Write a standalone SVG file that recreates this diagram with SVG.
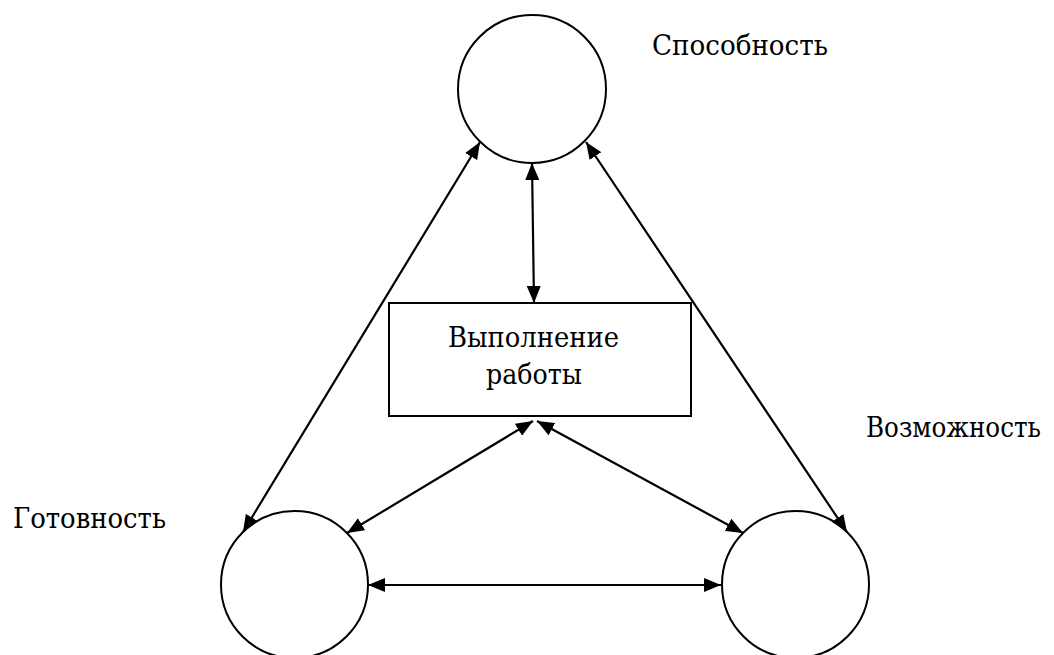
<svg xmlns="http://www.w3.org/2000/svg" width="1054" height="655" viewBox="0 0 1054 655">
<style>
.node{fill:#fff;stroke:#000;stroke-width:2}
.lbl{font-family:"DejaVu Serif",serif;font-size:28px;fill:#000}
.conn{stroke:#000;stroke-width:2.2;fill:none;marker-start:url(#ah);marker-end:url(#ah)}
</style>
<defs>
<marker id="ah" viewBox="0 0 17 14" refX="17" refY="7" markerWidth="17" markerHeight="14" markerUnits="userSpaceOnUse" orient="auto-start-reverse">
<path d="M0,0 L17,7 L0,14 Z" fill="#000"/>
</marker>
</defs>
<rect width="1054" height="655" fill="#fff"/>
<g id="node-sposobnost">
<circle class="node" cx="532" cy="89" r="74"/>
<text class="lbl" x="652" y="55" textLength="176" lengthAdjust="spacingAndGlyphs">Способность</text>
</g>
<g id="node-gotovnost">
<circle class="node" cx="294.5" cy="584.5" r="73.5"/>
<text class="lbl" x="13" y="528" textLength="153" lengthAdjust="spacingAndGlyphs">Готовность</text>
</g>
<g id="node-vozmozhnost">
<circle class="node" cx="795.5" cy="584.5" r="73.5"/>
<text class="lbl" x="866" y="437" font-size="24" textLength="175" lengthAdjust="spacingAndGlyphs">Возможность</text>
</g>
<g id="node-vypolnenie">
<rect class="node" x="389" y="303" width="302" height="113"/>
<text class="lbl" x="448" y="347" textLength="171" lengthAdjust="spacingAndGlyphs">Выполнение</text>
<text class="lbl" x="486" y="384" textLength="96" lengthAdjust="spacingAndGlyphs">работы</text>
</g>
<g id="connectors">
<line class="conn" x1="480" y1="142" x2="243" y2="532"/>
<line class="conn" x1="532" y1="163" x2="534" y2="303"/>
<line class="conn" x1="586" y1="142" x2="847" y2="532"/>
<line class="conn" x1="533" y1="421" x2="347" y2="533"/>
<line class="conn" x1="537" y1="421" x2="743" y2="533"/>
<line class="conn" x1="368" y1="585" x2="721" y2="585"/>
</g>
</svg>
